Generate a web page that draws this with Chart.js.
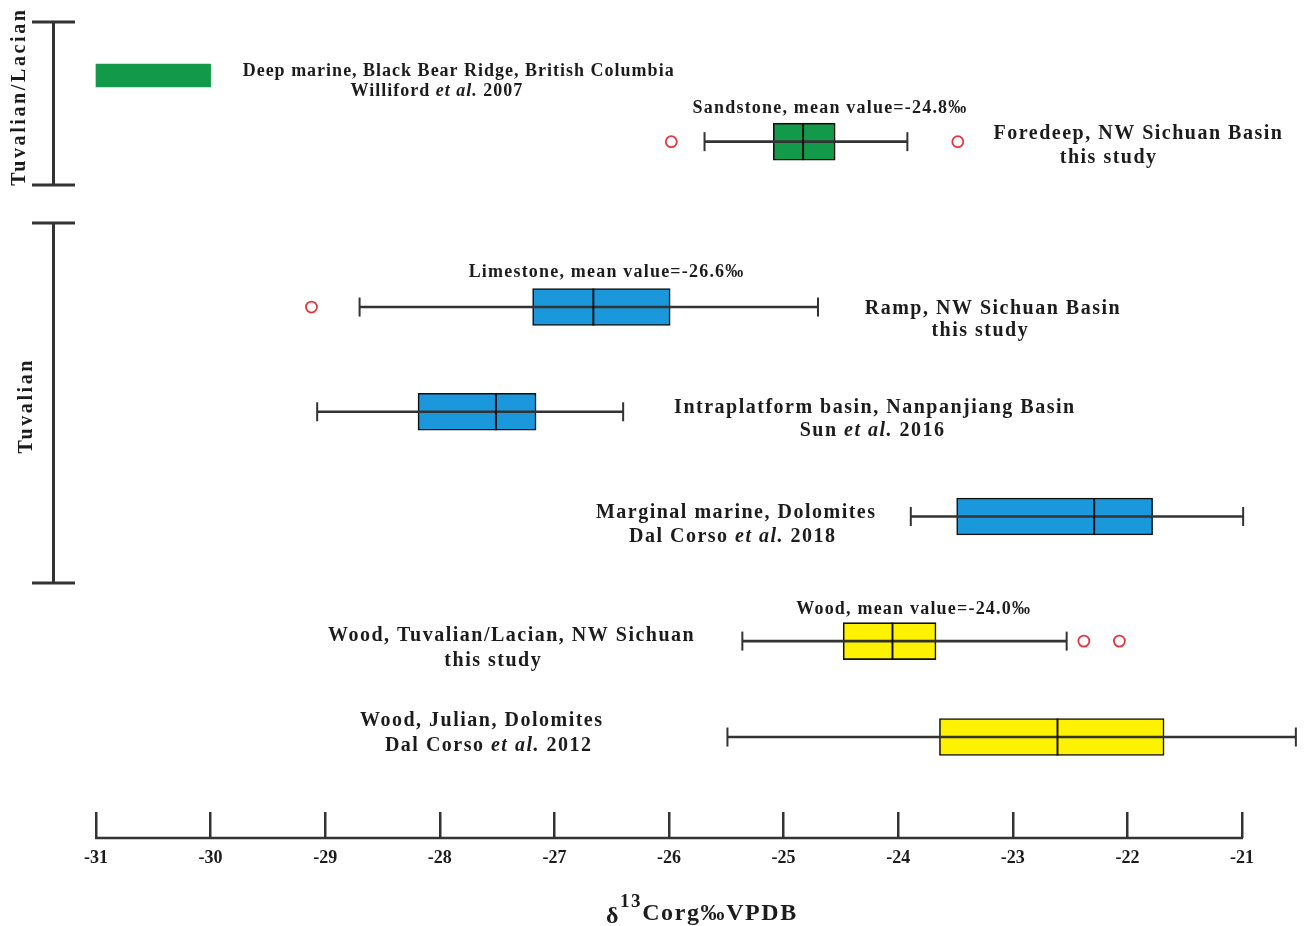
<!DOCTYPE html>
<html>
<head>
<meta charset="utf-8">
<script src="https://cdn.jsdelivr.net/npm/chart.js@4.4.1/dist/chart.umd.min.js"></script>
<style>
  html, body { margin: 0; padding: 0; background: #ffffff; }
  #wrap { width: 1304px; height: 926px; }
</style>
</head>
<body>
<div id="wrap"><canvas id="c" width="1304" height="926"></canvas></div>
<script>
// ---------------- DATA ----------------
const categories = [
  'Deep marine, Black Bear Ridge',
  'Foredeep sandstone',
  'Ramp limestone',
  'Intraplatform basin',
  'Marginal marine',
  'Wood, Tuvalian/Lacian',
  'Wood, Julian'
];
// range bar (deep marine, Williford et al. 2007)
const deepMarineRange = [-31.0, -30.0];
// box statistics (index 0 = deep marine, shown as a range bar only)
const whiskerMin = [null, -25.69, -28.70, -29.07, -23.89, -25.36, -25.49];
const q1         = [null, -25.09, -27.19, -28.19, -23.49, -24.48, -23.64];
const median     = [null, -24.83, -26.66, -27.51, -22.29, -24.05, -22.61];
const q3         = [null, -24.55, -25.99, -27.16, -21.78, -23.67, -21.68];
const whiskerMax = [null, -23.92, -24.70, -26.40, -20.99, -22.53, -20.53];
const outliers   = [[], [-25.98, -23.48], [-29.12], [], [], [-22.38, -22.07], []];

const siteLabels = [
  'Deep marine, Black Bear Ridge, British Columbia',
  'Foredeep, NW Sichuan Basin',
  'Ramp, NW Sichuan Basin',
  'Intraplatform basin, Nanpanjiang Basin',
  'Marginal marine, Dolomites',
  'Wood, Tuvalian/Lacian, NW Sichuan',
  'Wood, Julian, Dolomites'
];
const sourceLabels = [
  'Williford et al. 2007', 'this study', 'this study', 'Sun et al. 2016',
  'Dal Corso et al. 2018', 'this study', 'Dal Corso et al. 2012'
];
const meanLabels = [null, 'Sandstone, mean value=-24.8‰', 'Limestone, mean value=-26.6‰',
  null, null, 'Wood, mean value=-24.0‰', null];
const xTicks = [-31, -30, -29, -28, -27, -26, -25, -24, -23, -22, -21];
const stageLabels = ['Tuvalian/Lacian', 'Tuvalian'];
const axisTitleParts = ['δ', '13', 'Corg‰VPDB'];

// ---------------- LAYOUT / STYLE ----------------
const rowLevel = [0, 6, 21, 30.5, 40, 51.3, 60];           // vertical slot of each category
const rowColor = ['#12994a', '#12994a', '#1b98dc', '#1b98dc', '#1b98dc', '#fff200', '#fff200'];
const siteLayout   = [[-27.84, -4.5], [-21.91, -8], [-23.18, 2], [-24.21, -4], [-25.42, -4], [-27.38, -5], [-27.64, -16]];
const sourceLayout = [[-28.03, 15.5], [-22.17, 16], [-23.29, 24], [-24.23, 19], [-25.45, 20], [-27.54, 20], [-27.58, 9]];
const meanLayout   = [null, [-24.60, -33], [-26.55, -35], null, null, [-23.87, -32], null];
const stageLayout  = [{from: -4.85, to: 9.93, text: 2.04, tx: 20}, {from: 13.38, to: 46.03, text: 30.07, tx: 27}];
const FONT = '"Liberation Serif", "Times New Roman", serif';
const TEXT = '#1c1c1c';
const LINE = '#333333';

const boxIdx = categories.map((_, i) => i).filter(i => q1[i] !== null);

// ---------------- helpers ----------------
function segsOf(str) {
  const k = str.indexOf('et al.');
  if (k < 0) return [[str, false]];
  return [[str.slice(0, k), false], ['et al.', true], [str.slice(k + 6), false]].filter(s => s[0].length);
}
function drawRich(ctx, segs, cx, cy, size, ls) {
  ctx.save();
  ctx.textBaseline = 'middle';
  ctx.textAlign = 'left';
  ctx.fillStyle = TEXT;
  try { ctx.letterSpacing = ls + 'px'; } catch (e) {}
  let total = 0;
  const ws = segs.map(s => {
    ctx.font = (s[1] ? 'italic ' : '') + 'bold ' + size + 'px ' + FONT;
    const w = ctx.measureText(s[0]).width;
    total += w;
    return w;
  });
  total -= ls;
  let x = cx - total / 2;
  segs.forEach((s, j) => {
    ctx.font = (s[1] ? 'italic ' : '') + 'bold ' + size + 'px ' + FONT;
    ctx.fillText(s[0], x, cy);
    x += ws[j];
  });
  ctx.restore();
}

const annotationPlugin = {
  id: 'annot',
  afterDraw(chart) {
    const ctx = chart.ctx;
    const xs = chart.scales.x, ys = chart.scales.y;
    const ca = chart.chartArea;
    // x-axis base line (ticks point up to it from the chart area)
    const yBase = ca.bottom + 26;
    ctx.save();
    ctx.strokeStyle = LINE;
    ctx.lineWidth = 2.5;
    ctx.beginPath();
    ctx.moveTo(xs.getPixelForValue(xTicks[0]) - 1, yBase);
    ctx.lineTo(xs.getPixelForValue(xTicks[xTicks.length - 1]) + 1, yBase);
    ctx.stroke();
    ctx.restore();

    // site / source / mean labels
    categories.forEach((c, i) => {
      const yr = ys.getPixelForValue(rowLevel[i]);
      const isDeep = i === 0;
      const sz = isDeep ? 18 : 20, ls = isDeep ? 1.0 : 1.5;
      drawRich(ctx, segsOf(siteLabels[i]), xs.getPixelForValue(siteLayout[i][0]), yr + siteLayout[i][1], sz, ls);
      drawRich(ctx, segsOf(sourceLabels[i]), xs.getPixelForValue(sourceLayout[i][0]), yr + sourceLayout[i][1], sz, ls);
      if (meanLabels[i]) {
        drawRich(ctx, [[meanLabels[i], false]], xs.getPixelForValue(meanLayout[i][0]), yr + meanLayout[i][1], 18, 1.2);
      }
    });

    // stage brackets on the left
    stageLayout.forEach((st, k) => {
      const y1 = ys.getPixelForValue(st.from), y2 = ys.getPixelForValue(st.to);
      ctx.save();
      ctx.strokeStyle = LINE;
      ctx.lineWidth = 3;
      ctx.beginPath();
      ctx.moveTo(53.5, y1); ctx.lineTo(53.5, y2);
      ctx.moveTo(32, y1); ctx.lineTo(75, y1);
      ctx.moveTo(32, y2); ctx.lineTo(75, y2);
      ctx.stroke();
      ctx.translate(st.tx, ys.getPixelForValue(st.text));
      ctx.rotate(-Math.PI / 2);
      drawRich(ctx, [[stageLabels[k], false]], 0, 0, 20, 2.6);
      ctx.restore();
    });

    // axis title with superscript
    ctx.save();
    ctx.fillStyle = TEXT;
    ctx.textBaseline = 'alphabetic';
    ctx.textAlign = 'left';
    const f1 = 'bold 24px ' + FONT, f2 = 'bold 19px ' + FONT;
    const ls = 1.6;
    try { ctx.letterSpacing = ls + 'px'; } catch (e) {}
    ctx.font = f1; const w0 = ctx.measureText(axisTitleParts[0]).width;
    ctx.font = f2; const w1 = ctx.measureText(axisTitleParts[1]).width;
    ctx.font = f1; const w2 = ctx.measureText(axisTitleParts[2]).width;
    const cx = xs.getPixelForValue(-25.72);
    let x = cx - (w0 + w1 + w2 - ls) / 2;
    const base = ca.bottom + 108;
    ctx.font = f1; ctx.fillText(axisTitleParts[0], x, base + 3); x += w0;
    ctx.font = f2; ctx.fillText(axisTitleParts[1], x, base - 13); x += w1;
    ctx.font = f1; ctx.fillText(axisTitleParts[2], x, base);
    ctx.restore();
  }
};

// ---------------- datasets ----------------
const datasets = [
  {
    type: 'bar', indexAxis: 'y', label: categories[0], grouped: false, order: 6,
    data: [{ x: deepMarineRange, y: rowLevel[0] }],
    backgroundColor: rowColor[0], borderWidth: 0, barThickness: 23
  },
  {
    type: 'bar', indexAxis: 'y', label: 'IQR', grouped: false, order: 5,
    data: boxIdx.map(i => ({ x: [q1[i], q3[i]], y: rowLevel[i] })),
    backgroundColor: boxIdx.map(i => rowColor[i]),
    borderColor: '#111111', borderWidth: 1.6, borderSkipped: false, barThickness: 37
  },
  {
    type: 'bar', indexAxis: 'y', label: 'whisker', grouped: false, order: 4,
    data: boxIdx.map(i => ({ x: [whiskerMin[i], whiskerMax[i]], y: rowLevel[i] })),
    backgroundColor: LINE, borderWidth: 0, barThickness: 2
  },
  {
    type: 'scatter', label: 'caps', order: 3,
    data: boxIdx.flatMap(i => [{ x: whiskerMin[i], y: rowLevel[i] }, { x: whiskerMax[i], y: rowLevel[i] }]),
    pointStyle: 'line', rotation: 90, radius: 9.5, borderWidth: 2, borderColor: LINE
  },
  {
    type: 'scatter', label: 'median', order: 2,
    data: boxIdx.map(i => ({ x: median[i], y: rowLevel[i] })),
    pointStyle: 'line', rotation: 90, radius: 18.5, borderWidth: 2, borderColor: '#111111'
  },
  {
    type: 'scatter', label: 'outliers', order: 1,
    data: categories.flatMap((c, i) => outliers[i].map(v => ({ x: v, y: rowLevel[i] }))),
    pointStyle: 'circle', radius: 5.5, borderWidth: 1.8, borderColor: '#e3363f', backgroundColor: '#ffffff'
  }
];

new Chart(document.getElementById('c'), {
  type: 'scatter',
  data: { datasets },
  plugins: [annotationPlugin],
  options: {
    responsive: false,
    animation: false,
    events: [],
    clip: false,
    layout: { autoPadding: false, padding: { top: 10, left: 96, right: 4.7, bottom: 0 } },
    plugins: { legend: { display: false }, tooltip: { enabled: false }, title: { display: false } },
    scales: {
      x: {
        type: 'linear', position: 'bottom', min: -31, max: -20.5,
        afterBuildTicks: s => { s.ticks = xTicks.map(v => ({ value: v })); },
        afterFit: s => { s.height = 114; },
        grid: { display: true, drawOnChartArea: false, drawTicks: true, tickLength: 26, color: LINE, lineWidth: 2.5 },
        border: { display: false },
        ticks: {
          autoSkip: false, maxRotation: 0, padding: 10, color: TEXT,
          font: { family: FONT, weight: 'bold', size: 18 },
          callback: v => String(v)
        }
      },
      y: { type: 'linear', display: false, reverse: true, min: -5.941, max: 66.80, offset: false }
    }
  }
});
</script>
</body>
</html>
